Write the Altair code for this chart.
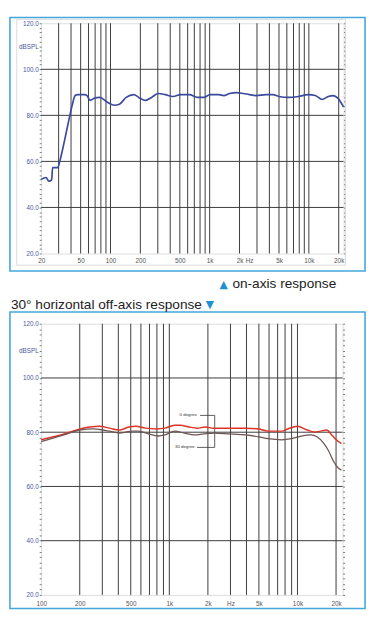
import altair as alt
import pandas as pd

# ---------------- data ----------------
# top chart: on-axis response
ON_FREQ = [20, 22.4, 23.9, 25.5, 26.1, 29.4, 30.8, 33.0, 35.1, 38.5, 41.3, 44.0, 47.0, 51.5, 55.0, 58.0,
           62.2, 70.0, 77.9, 93.3, 109.6, 122.8, 143.9, 171.8, 192.7, 225.9, 259.1, 303.8, 356.2,
           427, 512, 626, 748, 877, 1006, 1237, 1387, 1590, 1866, 2187, 2510, 2940, 3700, 4340,
           4980, 6260, 7870, 9890, 11600, 13600, 15700, 17600, 19700, 22400]
ON_DB = [52.2, 53.0, 51.4, 52.0, 57.3, 57.3, 60.0, 65.5, 70.8, 79.0, 84.8, 88.6, 89.0, 89.0, 89.0, 88.6,
         86.5, 87.6, 87.8, 85.7, 84.4, 84.8, 87.8, 89.0, 87.8, 86.5, 87.8, 89.5, 89.0,
         88.2, 89.0, 89.0, 87.8, 87.8, 89.0, 89.0, 88.6, 89.5, 89.9, 89.5, 89.0, 88.6, 89.0, 89.0,
         88.2, 87.8, 88.2, 89.0, 88.6, 86.9, 88.2, 88.6, 87.4, 83.6]

# bottom chart: 0 degree vs 30 degree
DEG0_FREQ = [100, 125, 160, 201, 240, 286, 341, 406, 483, 547, 651, 790, 923, 1100, 1220, 1430,
             1650, 1900, 2220, 2930, 3950, 4980, 5900, 7530, 8400, 9990, 11900, 13500, 15200,
             16900, 18500, 20100, 22000]
DEG0_DB = [77.2, 78.3, 79.7, 81.2, 81.9, 82.2, 81.5, 80.8, 81.9, 82.2, 81.5, 81.2, 81.5, 82.6, 82.6, 81.9,
           81.5, 81.9, 81.5, 81.5, 81.5, 81.2, 80.4, 80.4, 81.2, 82.2, 80.8, 80.1, 80.4,
           80.8, 79.0, 77.2, 75.8]
DEG30_FREQ = [100, 160, 201, 253, 286, 341, 406, 510, 576, 687, 818, 923, 1100, 1310, 1570, 1860,
              2220, 2930, 3950, 4980, 5900, 7530, 8960, 10700, 12800, 14200, 16100, 17600, 19100,
              20800, 22000]
DEG30_DB = [76.5, 79.4, 80.8, 81.2, 81.0, 80.4, 79.7, 80.4, 80.4, 79.4, 78.6, 79.0, 80.4, 79.7, 79.0, 79.4,
            79.7, 79.4, 79.0, 78.3, 77.6, 77.2, 77.6, 78.6, 79.0, 78.3, 75.8, 72.9, 69.3,
            66.8, 66.0]

# axes / grid
TOP_GRID_FREQ = [30, 40, 50, 60, 70, 80, 90, 100, 200, 300, 400, 500, 600, 700, 800, 900,
                 1000, 2000, 3000, 4000, 5000, 6000, 7000, 8000, 9000, 10000, 20000]
BOT_GRID_FREQ = [200, 300, 400, 500, 600, 700, 800, 900, 1000, 2000, 3000, 4000, 5000, 6000,
                 7000, 8000, 9000, 10000, 20000]
GRID_DB = [40, 60, 80, 100]
TOP_XTICK_VALS = [20, 50, 100, 200, 500, 1000, 2000, 2500, 5000, 10000, 20000]
TOP_XTICK_TEXT = ["20", "50", "100", "200", "500", "1k", "2k", "Hz", "5k", "10k", "20k"]
BOT_XTICK_VALS = [100, 200, 500, 1000, 2000, 3000, 5000, 10000, 20000]
BOT_XTICK_TEXT = ["100", "200", "500", "1k", "2k", "Hz", "5k", "10k", "20k"]
Y_MAJOR = [20, 40, 60, 80, 100, 120]
Y_UNIT_POS = 110
Y_UNIT_TEXT = "dBSPL"
Y_MINOR = list(range(20, 121, 2))

# annotation (bottom chart)
ANN_TEXT = ["0 degree", "30 degree"]
ANN_FREQ = [1404, 1323]
ANN_DB = [86.2, 74.4]
BRACKET_FREQ = [1738, 2260, 2260, 1646]
BRACKET_DB = [86.2, 86.2, 74.4, 74.4]

FONT = "Liberation Sans"
BLUE_BOX = "#45a6dc"
GRID_COL = "#3a3a3a"


def xlabel_expr(vals, texts):
    parts = [f"datum.value == {v} ? '{t}'" for v, t in zip(vals, texts)]
    return " : ".join(parts) + " : ''"


Y_LABEL_EXPR = (f"datum.value == {Y_UNIT_POS} ? '{Y_UNIT_TEXT}' : "
                "(indexof([" + ",".join(str(v) for v in Y_MAJOR) + "], datum.value) >= 0 ? "
                "format(datum.value, '.1f') : '')")

one = pd.DataFrame({"k": [0]})


def box(x1, x2, y1, y2, color, width):
    return alt.Chart(one).mark_rect(fill="transparent", stroke=color, strokeWidth=width).encode(
        x=alt.value(x1), x2=alt.value(x2), y=alt.value(y1), y2=alt.value(y2))


def make_xaxis(xvals, xtexts, label_pad):
    return alt.Axis(values=xvals, labelExpr=xlabel_expr(xvals, xtexts), ticks=False, domain=False,
                    grid=False, title=None, labelFont=FONT, labelFontSize=6.5, labelColor="#555",
                    labelPadding=label_pad, labelOverlap=False, labelFlush=False, labelBound=False)


def panel(xscale, yscale, xaxis, grid_freq, lines, extra, w, h):
    vgrid = alt.Chart(pd.DataFrame({"f": grid_freq})).mark_rule(
        color=GRID_COL, strokeWidth=1).encode(x=alt.X("f:Q", scale=xscale, axis=xaxis))
    hgrid = alt.Chart(pd.DataFrame({"d": GRID_DB})).mark_rule(
        color=GRID_COL, strokeWidth=1).encode(
        y=alt.Y("d:Q", scale=yscale,
                axis=alt.Axis(orient="right", values=Y_MINOR, labels=False, tickSize=2,
                              tickColor="#777", domain=False, grid=False, title=None)))
    yaxis = alt.Axis(orient="left", values=Y_MINOR, labelExpr=Y_LABEL_EXPR, tickSize=2,
                     tickColor="#777", domain=False, grid=False, title=None, labelFont=FONT,
                     labelFontSize=6.5, labelColor="#4a58a0", labelPadding=1, labelOverlap=False,
                     labelBound=False)
    line_layers = []
    for i, (fr, db, col, sw) in enumerate(lines):
        df = pd.DataFrame({"freq": fr, "db": db})
        line_layers.append(
            alt.Chart(df).mark_line(color=col, strokeWidth=sw, interpolate="monotone").encode(
                x=alt.X("freq:Q", scale=xscale, axis=xaxis),
                y=alt.Y("db:Q", scale=yscale, axis=yaxis if i == 0 else None)))
    return alt.layer(*extra, vgrid, hgrid, *line_layers).resolve_axis(y="independent").properties(
        width=w, height=h)


# ---------------- top chart ----------------
W1, H1 = 310, 236
xs1 = alt.Scale(type="log", domain=[20, 22400], nice=False)
ys1 = alt.Scale(domain=[20, 120], nice=False)
xax1 = make_xaxis(TOP_XTICK_VALS, TOP_XTICK_TEXT, 4.5)
top = panel(xs1, ys1, xax1, TOP_GRID_FREQ,
            [(ON_FREQ, ON_DB, "#3b4a9e", 1.7)],
            [box(-32, 332, -6, 254, BLUE_BOX, 1.6), box(-25, 312, -4, 248, "#dadada", 1)],
            W1, H1)

# ---------------- bottom chart ----------------
W2, H2 = 309, 278
xs2 = alt.Scale(type="log", domain=[100, 22500], nice=False)
ys2 = alt.Scale(domain=[20, 120], nice=False)
xax2 = make_xaxis(BOT_XTICK_VALS, BOT_XTICK_TEXT, 5.5)

spacer = alt.Chart(one).mark_rect(opacity=0).encode(
    x=alt.value(0), x2=alt.value(2), y=alt.value(-51), y2=alt.value(-50))
tri_up = alt.Chart(one).mark_text(text="▲", color="#1e8fd0", font="DejaVu Sans", fontSize=11,
                                   align="center", baseline="alphabetic").encode(
    x=alt.value(187), y=alt.value(-37))
on_txt = alt.Chart(one).mark_text(text="on-axis response", color="#222", font=FONT, fontSize=14,
                                  align="left", baseline="alphabetic").encode(
    x=alt.value(196), y=alt.value(-37))
off_txt = alt.Chart(one).mark_text(text="30° horizontal off-axis response", color="#222", font=FONT,
                                   fontSize=14, align="left", baseline="alphabetic").encode(
    x=alt.value(-31), y=alt.value(-15))
tri_dn = alt.Chart(one).mark_text(text="▼", color="#1e8fd0", font="DejaVu Sans", fontSize=11,
                                  align="center", baseline="alphabetic").encode(
    x=alt.value(173), y=alt.value(-16))

ann = alt.Chart(pd.DataFrame({"t": ANN_TEXT, "f": ANN_FREQ, "d": ANN_DB})).mark_text(
    font=FONT, fontSize=4.5, color="#333", align="center", baseline="middle").encode(
    x=alt.X("f:Q", scale=xs2, axis=xax2), y=alt.Y("d:Q", scale=ys2, axis=None), text="t:N")
bracket = alt.Chart(pd.DataFrame({"f": BRACKET_FREQ, "d": BRACKET_DB,
                                  "o": list(range(len(BRACKET_FREQ)))})).mark_line(
    color="#333", strokeWidth=0.8).encode(
    x=alt.X("f:Q", scale=xs2, axis=xax2), y=alt.Y("d:Q", scale=ys2, axis=None), order="o:Q")

bottom = panel(xs2, ys2, xax2, BOT_GRID_FREQ,
               [(DEG0_FREQ, DEG0_DB, "#dd3325", 1.5), (DEG30_FREQ, DEG30_DB, "#6e5454", 1.3)],
               [box(-32, 332, -12, 292, BLUE_BOX, 1.6), spacer, tri_up, on_txt, off_txt, tri_dn,
                bracket, ann],
               W2, H2)

chart = alt.vconcat(top, bottom, spacing=0).properties(padding=0).configure_view(
    stroke="#444", strokeWidth=1).configure(background="white")

chart.save("out.html", embed_options={"renderer": "svg", "actions": False})
